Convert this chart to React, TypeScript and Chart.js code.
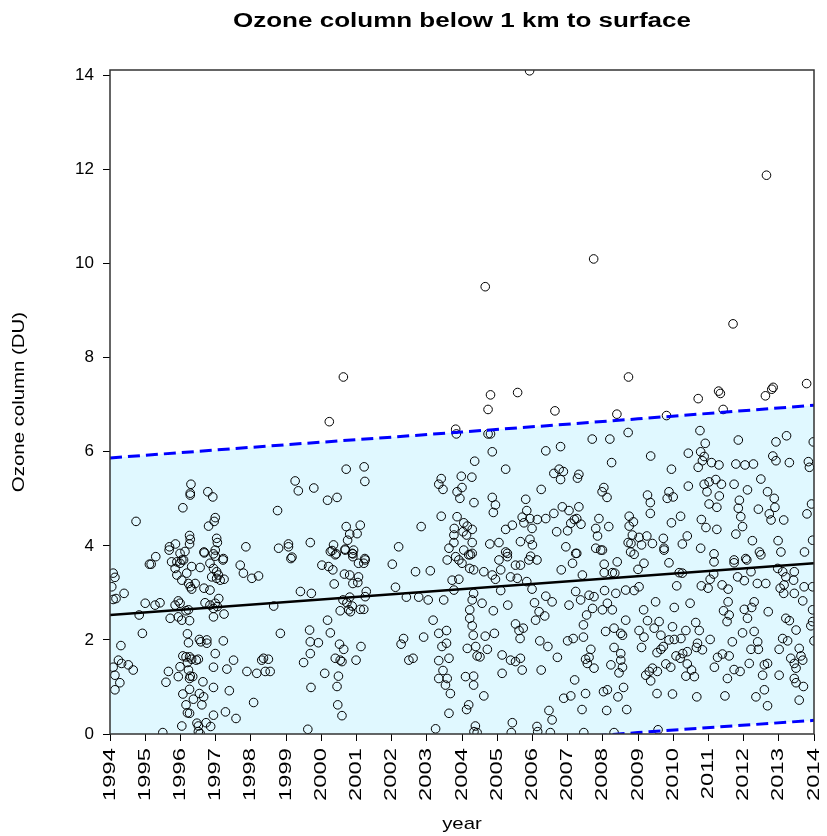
import React, { useEffect, useRef } from "react";
import { Chart, registerables } from "chart.js";
Chart.register(...registerables);

const chartTitle = "Ozone column below 1 km to surface";
const xAxisTitle = "year";
const yAxisTitle = "Ozone column (DU)";
const xTickYears = [1994, 1995, 1996, 1997, 1998, 1999, 2000, 2001, 2002, 2003, 2004, 2005, 2006, 2007, 2008, 2009, 2010, 2011, 2012, 2013, 2014];
const yTickValues = [0, 2, 4, 6, 8, 10, 12, 14];

const fitYears = [1994, 2014];
const fitValues = [2.53, 3.63];
const bandYears = [1994, 1999, 2004, 2009, 2014];
const upperBand = [5.87, 6.15, 6.42, 6.7, 6.99];
const lowerBand = [-0.81, -0.53, -0.25, 0.03, 0.29];

const obsHighValues: [number, number][] = [
  [2005.92, 14.1], [2012.65, 11.88], [2007.74, 10.1], [2004.66, 9.51], [2011.7, 8.72], [2008.73, 7.59], [2013.79, 7.45],
  [2000.63, 7.59], [2000.23, 6.64], [2004.81, 7.21], [2005.58, 7.26], [2004.74, 6.9], [2006.64, 6.87], [2008.4, 6.8],
  [2003.82, 6.48], [2003.84, 6.38], [2004.74, 6.38], [2004.81, 6.38], [2008.72, 6.41], [2010.71, 7.13], [2011.29, 7.29],
  [2011.34, 7.24], [2012.62, 7.19], [2012.84, 7.37], [2012.8, 7.33], [2009.81, 6.77], [2011.42, 6.9],
];

const obs1994_1998: [number, number][] = [
  [1996.3, 5.31], [1996.28, 5.12], [1996.28, 5.08], [1996.78, 5.15], [1996.92, 5.04], [1996.07, 4.81], [1994.74, 4.52], [1996.99, 4.6],
  [1996.96, 4.52], [1996.8, 4.42], [1998.76, 4.75], [1996.26, 4.22], [1996.28, 4.14], [1997.03, 4.16], [1997.05, 4.07], [1995.69, 3.98],
  [1995.86, 4.04], [1996.26, 4.04], [1997.86, 3.98], [1998.79, 3.95], [1995.3, 3.77], [1996.67, 3.87], [1996.99, 3.91], [1997.22, 3.73],
  [1996.99, 3.78], [1995.68, 3.91], [1995.99, 3.84], [1996.13, 3.88], [1996.09, 3.7], [1996.68, 3.85], [1996.94, 3.83], [1995.12, 3.61],
  [1995.17, 3.61], [1995.75, 3.66], [1995.9, 3.66], [1995.99, 3.63], [1995.85, 3.52], [1996.04, 3.7], [1996.32, 3.56], [1996.56, 3.54],
  [1996.84, 3.63], [1996.94, 3.52], [1997.03, 3.45], [1997.21, 3.7], [1997.7, 3.59], [1997.79, 3.42], [1998.03, 3.31], [1998.22, 3.36],
  [1994.09, 3.42], [1994.14, 3.33], [1994.05, 3.13], [1994.4, 2.99], [1994.17, 2.88], [1994.09, 2.86], [1995.9, 3.38], [1996.04, 3.27],
  [1996.18, 3.42], [1996.23, 3.2], [1996.28, 3.13], [1996.32, 3.08], [1996.42, 3.2], [1996.89, 3.34], [1997.03, 3.31], [1997.08, 3.38],
  [1997.13, 3.27], [1997.24, 3.29], [1996.67, 3.1], [1996.84, 3.06], [1997.09, 2.88], [1995.0, 2.78], [1995.28, 2.74], [1995.42, 2.79],
  [1995.85, 2.74], [1995.94, 2.83], [1995.99, 2.78], [1996.16, 2.62], [1996.23, 2.64], [1996.7, 2.79], [1996.84, 2.74], [1996.94, 2.67],
  [1996.99, 2.78], [1997.05, 2.71], [1997.24, 2.55], [1994.83, 2.53], [1995.71, 2.46], [1995.94, 2.49], [1996.04, 2.42], [1996.26, 2.41],
  [1996.94, 2.49], [1998.65, 2.72], [1994.92, 2.14], [1996.2, 2.13], [1996.23, 1.94], [1996.54, 2.01], [1996.58, 1.96], [1996.75, 2.0],
  [1996.75, 1.93], [1997.22, 1.98], [1994.31, 1.88], [1998.84, 2.14], [1996.99, 1.71], [1996.07, 1.66], [1996.16, 1.64], [1996.26, 1.64],
  [1996.32, 1.59], [1996.45, 1.57], [1996.51, 1.59], [1996.2, 1.52], [1997.51, 1.57], [1994.24, 1.57], [1994.33, 1.5], [1994.09, 1.42],
  [1994.52, 1.47], [1994.66, 1.36], [1995.99, 1.43], [1996.23, 1.36], [1996.28, 1.23], [1996.35, 1.22], [1996.94, 1.42], [1997.32, 1.38],
  [1997.89, 1.33], [1998.17, 1.29], [1998.41, 1.33], [1998.55, 1.33], [1998.31, 1.57], [1998.36, 1.61], [1998.5, 1.59], [1994.14, 1.25],
  [1995.66, 1.33], [1995.94, 1.22], [1994.28, 1.09], [1994.14, 0.94], [1995.59, 1.1], [1996.26, 1.18], [1996.64, 1.11], [1996.07, 0.85],
  [1996.26, 0.95], [1996.54, 0.86], [1996.66, 0.79], [1996.37, 0.74], [1996.94, 0.99], [1997.39, 0.92], [1996.16, 0.62], [1996.61, 0.62],
  [1998.08, 0.67], [1996.2, 0.45], [1996.26, 0.44], [1996.94, 0.4], [1997.28, 0.47], [1997.58, 0.33], [1996.04, 0.17], [1996.47, 0.23],
  [1996.51, 0.17], [1996.73, 0.24], [1996.86, 0.16], [1995.5, 0.03], [1996.51, 0.05], [1996.56, 0.01],
];

const obs1999_2003: [number, number][] = [
  [2000.71, 5.63], [2001.22, 5.68], [2001.24, 5.37], [1999.26, 5.38], [1999.35, 5.17], [1999.79, 5.23], [2000.18, 4.97], [2000.45, 5.03],
  [2003.41, 5.43], [2003.34, 5.31], [2003.46, 5.2], [2003.41, 4.63], [2002.84, 4.41], [2000.71, 4.41], [2001.11, 4.44], [2000.81, 4.25],
  [2001.02, 4.26], [2000.75, 4.12], [1999.07, 4.04], [1999.07, 3.98], [1999.69, 4.07], [2000.35, 4.02], [2000.31, 3.9], [2000.43, 3.83],
  [2000.68, 3.93], [2000.92, 3.91], [2000.9, 3.83], [2002.2, 3.98], [1999.17, 3.76], [2001.24, 3.73], [2003.63, 3.95],
  [1999.14, 3.73], [2000.26, 3.88], [2000.4, 3.81], [2000.68, 3.91], [2000.88, 3.84], [2000.9, 3.77], [2001.06, 3.63], [2001.25, 3.7],
  [2001.21, 3.63], [2000.02, 3.59], [2000.21, 3.56], [2000.33, 3.49], [2002.02, 3.61], [2002.68, 3.45], [2003.1, 3.47], [2003.58, 3.7],
  [2000.66, 3.4], [2000.81, 3.38], [2001.06, 3.34], [2000.9, 3.2], [2001.04, 3.22], [2000.37, 3.19], [1999.41, 3.03], [1999.72, 2.99],
  [2001.28, 3.03], [2002.11, 3.12], [2000.62, 2.85], [2000.81, 2.91], [2000.73, 2.79], [2000.88, 2.72], [2000.78, 2.64], [2000.54, 2.62],
  [2000.83, 2.6], [2001.11, 2.65], [2001.21, 2.65], [2001.25, 2.92], [2002.42, 2.91], [2002.77, 2.91], [2003.04, 2.85], [2003.48, 2.85],
  [2000.18, 2.42], [2003.18, 2.42], [1999.67, 2.21], [2000.26, 2.15], [1999.69, 1.96], [1999.92, 1.94], [2000.52, 1.91], [2000.64, 1.8],
  [2001.13, 1.86], [1999.69, 1.71], [2002.34, 2.03], [2002.27, 1.91], [2002.91, 2.06], [2003.34, 2.14], [2003.56, 2.2], [2003.43, 1.86],
  [2003.56, 1.93], [2000.4, 1.61], [2000.54, 1.57], [2000.59, 1.54], [2000.99, 1.57], [1999.5, 1.52], [2002.49, 1.57], [2002.61, 1.61],
  [2003.34, 1.56], [2003.63, 1.61], [2000.1, 1.29], [2000.49, 1.23], [2003.46, 1.35], [2003.34, 1.18], [2003.58, 1.18], [2000.45, 1.01],
  [1999.71, 0.99], [2003.53, 1.04], [2003.67, 0.86], [2000.47, 0.62], [2000.59, 0.39], [1999.62, 0.1], [2003.25, 0.11], [2003.63, 0.44],
];

const obs2003_2008: [number, number][] = [
  [2007.7, 6.27], [2008.2, 6.27], [2004.86, 6.0], [2006.38, 6.02], [2006.8, 6.11], [2008.25, 5.77], [2004.36, 5.8], [2005.24, 5.63],
  [2003.98, 5.48], [2004.28, 5.46], [2006.61, 5.54], [2006.76, 5.63], [2006.88, 5.58], [2006.8, 5.41], [2007.32, 5.52], [2007.28, 5.44],
  [2006.25, 5.2], [2003.86, 5.15], [2004.0, 5.24], [2003.94, 5.01], [2008.03, 5.24], [2008.12, 5.03], [2007.98, 5.15], [2004.86, 5.03],
  [2004.95, 4.87], [2004.89, 4.71], [2004.34, 4.92], [2005.81, 4.99], [2005.84, 4.75], [2006.61, 4.69], [2006.85, 4.83], [2007.04, 4.75],
  [2007.32, 4.83], [2003.86, 4.62], [2004.05, 4.49], [2004.15, 4.42], [2003.78, 4.37], [2004.29, 4.35], [2004.03, 4.3], [2003.77, 4.23],
  [2004.13, 4.23], [2003.77, 4.07], [2004.29, 4.07], [2005.43, 4.44], [2005.24, 4.35], [2005.71, 4.61], [2005.76, 4.49], [2005.93, 4.58],
  [2006.14, 4.56], [2005.99, 4.37], [2006.38, 4.58], [2006.69, 4.3], [2007.0, 4.32], [2007.09, 4.48], [2007.19, 4.56], [2007.26, 4.58],
  [2007.38, 4.46], [2007.89, 4.58], [2008.17, 4.41], [2007.8, 4.37], [2007.85, 4.21], [2008.75, 4.63], [2004.79, 4.04], [2005.05, 4.07],
  [2005.66, 4.09], [2005.93, 4.14], [2006.0, 4.02], [2006.95, 3.98], [2007.26, 3.84], [2007.8, 3.95], [2007.99, 3.91], [2008.72, 4.07],
  [2004.05, 3.91], [2004.24, 3.81], [2003.82, 3.77], [2005.24, 3.87], [2005.29, 3.77], [2005.95, 3.78],
  [2003.91, 3.7], [2004.0, 3.63], [2004.19, 3.81], [2004.29, 3.84], [2005.05, 3.7], [2005.29, 3.84], [2005.52, 3.59], [2005.66, 3.59],
  [2005.9, 3.7], [2006.13, 3.7], [2007.14, 3.63], [2007.23, 3.84], [2008.04, 3.61], [2008.41, 3.66], [2007.94, 3.91], [2004.22, 3.52],
  [2004.33, 3.49], [2004.62, 3.45], [2004.86, 3.38], [2004.95, 3.29], [2005.1, 3.49], [2005.38, 3.34], [2005.57, 3.31], [2005.84, 3.24],
  [2006.82, 3.49], [2007.42, 3.38], [2008.04, 3.43], [2008.27, 3.43], [2008.34, 3.42], [2003.72, 3.27], [2003.91, 3.29], [2003.77, 3.06],
  [2004.33, 2.99], [2005.1, 3.05], [2005.99, 3.08], [2007.23, 3.03], [2007.61, 2.95], [2007.75, 2.92], [2008.05, 3.05], [2008.37, 2.99],
  [2008.65, 3.06], [2004.29, 2.85], [2004.57, 2.78], [2004.22, 2.64], [2004.89, 2.62], [2005.3, 2.74], [2006.06, 2.79], [2006.38, 2.93],
  [2006.56, 2.81], [2007.04, 2.74], [2007.37, 2.85], [2007.71, 2.67], [2007.99, 2.64], [2008.27, 2.64], [2008.13, 2.78], [2007.54, 2.53],
  [2006.19, 2.6], [2006.09, 2.42], [2006.35, 2.51], [2004.22, 2.46], [2004.29, 2.3], [2004.32, 2.1], [2005.52, 2.34], [2005.62, 2.2],
  [2005.74, 2.25], [2005.65, 2.03], [2004.92, 2.14], [2004.66, 2.08], [2007.45, 2.32], [2007.45, 2.06], [2008.08, 2.18], [2008.32, 2.25],
  [2008.51, 2.14], [2008.65, 2.42], [2008.56, 2.1], [2006.21, 1.98], [2006.44, 1.86], [2007.0, 1.98], [2007.16, 2.03], [2007.66, 1.8],
  [2008.32, 1.84], [2008.51, 1.71], [2004.15, 1.82], [2004.39, 1.86], [2004.72, 1.8], [2004.43, 1.66], [2004.51, 1.64], [2005.14, 1.68],
  [2005.38, 1.57], [2005.52, 1.54], [2005.66, 1.61], [2006.71, 1.63], [2007.51, 1.59], [2007.61, 1.63], [2007.56, 1.5], [2007.75, 1.4],
  [2008.23, 1.47], [2008.56, 1.42], [2008.51, 1.57], [2004.1, 1.22], [2004.33, 1.23], [2005.14, 1.29], [2005.71, 1.36], [2006.25, 1.36],
  [2007.2, 1.15], [2008.46, 1.3], [2004.33, 1.04], [2004.62, 0.81], [2006.89, 0.76], [2007.09, 0.81], [2007.51, 0.86], [2008.02, 0.9],
  [2008.13, 0.94], [2008.59, 0.99], [2008.43, 0.79], [2004.13, 0.52], [2004.19, 0.62], [2006.47, 0.5], [2006.56, 0.3], [2007.41, 0.52],
  [2008.11, 0.5], [2008.68, 0.52], [2005.43, 0.24], [2004.38, 0.17], [2004.34, 0.05], [2004.43, 0.03], [2005.4, 0.03], [2006.13, 0.16],
  [2006.15, 0.05], [2006.51, 0.03], [2007.46, 0.03], [2008.32, 0.03],
];

const obs2008_2014: [number, number][] = [
  [2010.76, 6.45], [2011.85, 6.25], [2012.92, 6.21], [2013.22, 6.34], [2013.98, 6.21], [2010.91, 6.18], [2009.36, 5.91], [2010.43, 5.97],
  [2010.78, 6.0], [2010.88, 5.9], [2010.83, 5.81], [2011.09, 5.77], [2010.71, 5.67], [2011.3, 5.72], [2011.78, 5.74], [2012.04, 5.72],
  [2012.28, 5.74], [2012.83, 5.91], [2012.92, 5.81], [2013.3, 5.77], [2013.84, 5.79], [2013.87, 5.67], [2009.95, 5.63], [2010.43, 5.27],
  [2010.88, 5.31], [2011.02, 5.36], [2011.21, 5.41], [2011.37, 5.31], [2011.73, 5.31], [2012.49, 5.42], [2010.96, 5.15], [2011.31, 5.06],
  [2012.11, 5.19], [2012.68, 5.15], [2009.27, 5.08], [2009.35, 4.92], [2009.88, 5.15], [2009.83, 5.01], [2010.0, 5.04], [2009.35, 4.69],
  [2010.21, 4.63], [2009.95, 4.49], [2011.02, 4.89], [2011.24, 4.82], [2011.88, 4.97], [2011.85, 4.8], [2011.92, 4.62], [2011.97, 4.41],
  [2012.42, 4.78], [2012.87, 5.01], [2012.89, 4.82], [2012.73, 4.68], [2012.78, 4.55], [2013.14, 4.55], [2013.93, 4.89], [2013.8, 4.68],
  [2010.8, 4.56], [2010.93, 4.39], [2011.24, 4.35], [2008.75, 4.42], [2008.87, 4.51], [2008.84, 4.23], [2009.03, 4.18], [2008.8, 4.05],
  [2009.1, 4.02], [2009.25, 4.21], [2009.41, 4.05], [2009.72, 4.16], [2009.74, 3.95], [2010.26, 4.04], [2010.4, 4.21], [2010.78, 3.95],
  [2011.16, 3.83], [2011.78, 4.25], [2012.25, 4.11], [2012.45, 3.87], [2012.98, 4.11], [2013.06, 3.87], [2013.73, 3.87], [2013.96, 4.12],
  [2008.79, 3.87], [2008.89, 3.82], [2011.73, 3.7], [2012.06, 3.73],
  [2009.17, 3.63], [2009.88, 3.64], [2009.74, 3.91], [2011.16, 3.66], [2011.73, 3.64], [2012.09, 3.7], [2012.49, 3.81], [2009.0, 3.5],
  [2010.17, 3.43], [2010.26, 3.42], [2011.15, 3.4], [2011.05, 3.29], [2011.83, 3.34], [2012.02, 3.26], [2012.21, 3.45], [2012.39, 3.2],
  [2012.63, 3.2], [2012.97, 3.52], [2013.11, 3.45], [2013.2, 3.34], [2013.15, 3.17], [2013.04, 3.1], [2013.42, 3.27], [2013.44, 3.45],
  [2013.72, 3.13], [2013.96, 3.13], [2008.89, 3.05], [2009.03, 3.13], [2010.1, 3.15], [2010.8, 3.15], [2010.99, 3.1], [2011.39, 3.17],
  [2011.56, 3.08], [2013.14, 2.99], [2013.44, 2.99], [2013.68, 2.83], [2009.5, 2.81], [2010.48, 2.78], [2010.03, 2.69], [2011.56, 2.81],
  [2012.3, 2.81], [2012.02, 2.65], [2012.23, 2.69], [2011.43, 2.62], [2012.7, 2.6], [2009.16, 2.64], [2009.27, 2.41], [2009.6, 2.39],
  [2010.64, 2.37], [2011.59, 2.53], [2011.53, 2.39], [2012.11, 2.46], [2013.2, 2.46], [2013.3, 2.41], [2013.49, 2.21], [2013.96, 2.39],
  [2013.91, 2.3], [2009.46, 2.25], [2009.65, 2.1], [2009.98, 2.28], [2010.36, 2.2], [2010.74, 2.2], [2009.03, 2.2], [2009.17, 2.06],
  [2009.88, 2.0], [2010.03, 2.01], [2010.22, 2.03], [2011.05, 2.01], [2011.68, 1.96], [2011.97, 2.15], [2012.3, 2.18], [2012.4, 1.96],
  [2013.11, 2.03], [2013.25, 1.98], [2014.0, 1.98], [2010.69, 1.93], [2010.66, 1.84], [2010.83, 1.79], [2009.72, 1.86], [2009.65, 1.8],
  [2009.54, 1.73], [2009.1, 1.84], [2010.08, 1.66], [2010.27, 1.71], [2010.2, 1.61], [2010.4, 1.75], [2011.4, 1.7], [2011.26, 1.63],
  [2011.59, 1.66], [2012.21, 1.8], [2012.42, 1.8], [2013.01, 1.8], [2013.58, 1.82], [2013.34, 1.61], [2013.63, 1.66], [2013.68, 1.57],
  [2009.79, 1.49], [2009.93, 1.42], [2009.41, 1.4], [2009.32, 1.33], [2009.55, 1.33], [2010.4, 1.49], [2010.52, 1.36], [2010.36, 1.23],
  [2010.6, 1.22], [2011.17, 1.42], [2011.73, 1.37], [2011.9, 1.33], [2011.54, 1.18], [2012.16, 1.5], [2012.59, 1.47], [2012.68, 1.5],
  [2012.54, 1.25], [2013.01, 1.25], [2013.44, 1.5], [2013.49, 1.4], [2009.22, 1.25], [2009.36, 1.13], [2013.44, 1.18], [2013.49, 1.09],
  [2013.7, 1.01], [2009.54, 0.86], [2009.98, 0.85], [2010.67, 0.79], [2011.47, 0.81], [2012.35, 0.79], [2012.59, 0.94], [2013.58, 0.72],
  [2012.68, 0.6], [2009.57, 0.09], [2013.96, 2.64],
];

const FONT = '"Liberation Sans", Arial, Helvetica, sans-serif';

function drawText(ctx: CanvasRenderingContext2D, text: string, x: number, y: number, o: { size: number; bold?: boolean; align: CanvasTextAlign; baseline: CanvasTextBaseline; angle?: number; sx?: number }) {
  ctx.save();
  ctx.translate(x, y);
  if (o.angle) ctx.rotate(o.angle);
  ctx.scale(o.sx ?? 1, 1);
  ctx.font = `${o.bold ? "bold " : ""}${o.size}px ${FONT}`;
  ctx.textAlign = o.align;
  ctx.textBaseline = o.baseline;
  ctx.fillStyle = "#000";
  ctx.fillText(text, 0, 0);
  ctx.restore();
}

const rDecor = {
  id: "rDecor",
  afterDraw(chart: any) {
    const { ctx, chartArea, scales } = chart;
    const xs = scales.x;
    const ys = scales.y;
    ctx.save();
    ctx.strokeStyle = "#333";
    ctx.lineWidth = 1.5;
    ctx.strokeRect(chartArea.left, chartArea.top, chartArea.right - chartArea.left, chartArea.bottom - chartArea.top);
    ctx.restore();
    for (const v of yTickValues) {
      drawText(ctx, String(v), chartArea.left - 16, ys.getPixelForValue(v), { size: 17, align: "right", baseline: "middle" });
    }
    for (const v of xTickYears) {
      drawText(ctx, String(v), xs.getPixelForValue(v), chartArea.bottom + 14, { size: 17, align: "right", baseline: "middle", angle: -Math.PI / 2, sx: 1.4 });
    }
    drawText(ctx, chartTitle, (chartArea.left + chartArea.right) / 2, 21, { size: 20, bold: true, align: "center", baseline: "middle", sx: 1.3 });
    drawText(ctx, xAxisTitle, (chartArea.left + chartArea.right) / 2, 824, { size: 17, align: "center", baseline: "middle", sx: 1.2 });
    drawText(ctx, yAxisTitle, 19, (chartArea.top + chartArea.bottom) / 2, { size: 17, align: "center", baseline: "middle", angle: -Math.PI / 2, sx: 1.2 });
  },
};

export default function App() {
  const ref = useRef<HTMLCanvasElement | null>(null);
  useEffect(() => {
    document.body.style.margin = "0";
    const canvas = ref.current;
    if (!canvas) return;
    const toXY = (arr: [number, number][]) => arr.map(([x, y]) => ({ x, y }));
    const points = [
      ...toXY(obs1994_1998),
      ...toXY(obs1999_2003),
      ...toXY(obs2003_2008),
      ...toXY(obs2008_2014),
      ...toXY(obsHighValues),
    ];
    const chart = new Chart(canvas, {
      type: "scatter",
      data: {
        datasets: [
          {
            type: "line",
            label: "fit",
            data: fitYears.map((x, i) => ({ x, y: fitValues[i] })),
            borderColor: "#000",
            borderWidth: 2.5,
            pointRadius: 0,
            fill: false,
            clip: 0,
          } as any,
          {
            type: "line",
            label: "upper",
            data: bandYears.map((x, i) => ({ x, y: upperBand[i] })),
            borderColor: "#0000FF",
            borderWidth: 3,
            borderDash: [12, 6],
            pointRadius: 0,
            fill: "+1",
            backgroundColor: "#E0F8FF",
            clip: 0,
          } as any,
          {
            type: "line",
            label: "lower",
            data: bandYears.map((x, i) => ({ x, y: lowerBand[i] })),
            borderColor: "#0000FF",
            borderWidth: 3,
            borderDash: [12, 6],
            pointRadius: 0,
            fill: false,
            clip: 0,
          } as any,
          {
            type: "scatter",
            label: "obs",
            data: points,
            pointRadius: 4.3,
            pointBorderWidth: 1,
            borderColor: "#000",
            backgroundColor: "rgba(0,0,0,0)",
            pointBackgroundColor: "rgba(0,0,0,0)",
            pointBorderColor: "#000",
            clip: 0,
          } as any,
        ],
      },
      options: {
        responsive: false,
        animation: false,
        devicePixelRatio: 1,
        layout: { padding: { left: 0, right: 13, top: 70, bottom: 0 } },
        plugins: {
          legend: { display: false },
          tooltip: { enabled: false },
          title: { display: false },
          filler: { drawTime: "beforeDatasetsDraw" } as any,
        },
        scales: {
          x: {
            type: "linear",
            min: 1994,
            max: 2014,
            afterBuildTicks: (s: any) => { s.ticks = xTickYears.map((v) => ({ value: v })); },
            afterFit: (s: any) => { s.height = 102; },
            ticks: { display: false },
            grid: { display: true, drawOnChartArea: false, drawTicks: true, tickLength: 7, color: "#000", lineWidth: 1 },
            border: { display: false },
          },
          y: {
            type: "linear",
            min: 0,
            max: 14.117,
            afterBuildTicks: (s: any) => { s.ticks = yTickValues.map((v) => ({ value: v })); },
            afterFit: (s: any) => { s.width = 110; },
            ticks: { display: false },
            grid: { display: true, drawOnChartArea: false, drawTicks: true, tickLength: 7, color: "#000", lineWidth: 1 },
            border: { display: false },
          },
        },
      } as any,
      plugins: [rDecor],
    });
    return () => chart.destroy();
  }, []);
  return <canvas ref={ref} width={827} height={836} style={{ display: "block" }} />;
}
